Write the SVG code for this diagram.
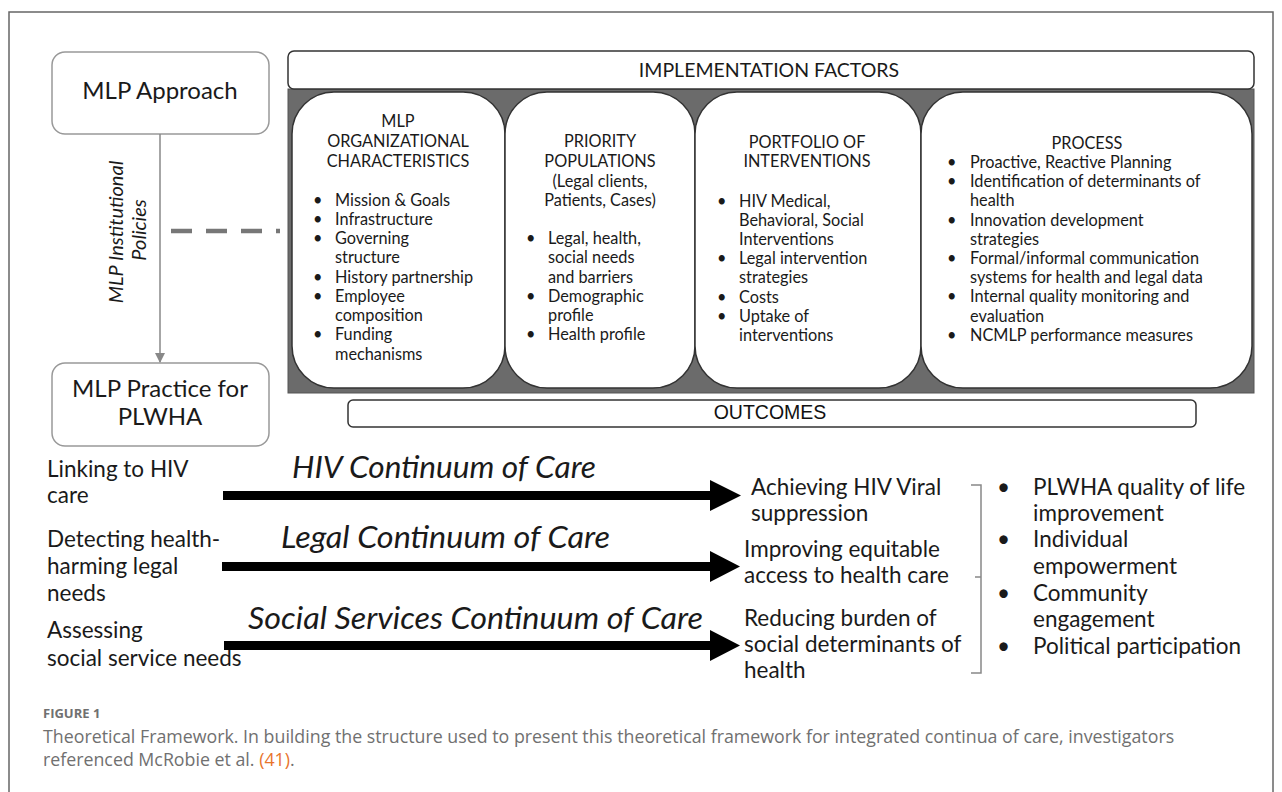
<svg xmlns="http://www.w3.org/2000/svg" width="1282" height="792" viewBox="0 0 1282 792">
<style>
.t{font-family:Lato,"Open Sans","DejaVu Sans",sans-serif;fill:#1a1a1a}
.bx{font-size:16.3px}
.c{text-anchor:middle}
.big{font-size:22.5px}
.it{font-style:italic}
.node{fill:#fff;stroke:#999;stroke-width:1.5}
.col{fill:#fff;stroke:#333;stroke-width:1.5}
.cap{font-family:"Open Sans","Noto Sans",sans-serif;fill:#707070}
</style>
<defs>
<marker id="ah" markerWidth="10" markerHeight="10" refX="9" refY="5" orient="auto" markerUnits="userSpaceOnUse">
<path d="M0,0 L10,5 L0,10 Z" fill="#888"/>
</marker>
</defs>
<rect x="0" y="0" width="1282" height="792" fill="#fff"/>
<rect x="9" y="12" width="1264" height="800" fill="none" stroke="#666" stroke-width="1.5"/>

<g id="mlp-approach">
<rect class="node" x="52" y="52" width="217" height="82" rx="13"/>
<text class="t c" x="160" y="99" font-size="24">MLP Approach</text>
</g>
<g id="mlp-practice">
<rect class="node" x="52" y="363" width="217" height="83" rx="13"/>
<text class="t c" x="160" y="397" font-size="24">MLP Practice for</text>
<text class="t c" x="160" y="425" font-size="24">PLWHA</text>
</g>
<g id="policies-label">
<text class="t c it" font-size="20" transform="translate(123,232) rotate(-90)">MLP Institutional</text>
<text class="t c it" font-size="20" transform="translate(146,230) rotate(-90)">Policies</text>
</g>

<g id="implementation">
<rect x="288" y="89" width="966" height="304" fill="#6b6b6b" stroke="#555" stroke-width="1"/>
<rect x="288" y="51" width="966" height="38" rx="6" fill="#fff" stroke="#333" stroke-width="1.5"/>
<text class="t c" x="769" y="77" font-size="19.5">IMPLEMENTATION FACTORS</text>
</g>

<g id="org-char">
<rect class="col" x="292" y="92" width="213" height="296" rx="42"/>
<text class="t bx c" x="398" y="127">MLP</text>
<text class="t bx c" x="398" y="147">ORGANIZATIONAL</text>
<text class="t bx c" x="398" y="167">CHARACTERISTICS</text>
<g class="t bx">
<text x="313" y="206">•</text><text x="335" y="206">Mission &amp; Goals</text>
<text x="313" y="225">•</text><text x="335" y="225">Infrastructure</text>
<text x="313" y="244">•</text><text x="335" y="244">Governing</text>
<text x="335" y="263">structure</text>
<text x="313" y="283">•</text><text x="335" y="283">History partnership</text>
<text x="313" y="302">•</text><text x="335" y="302">Employee</text>
<text x="335" y="321">composition</text>
<text x="313" y="340">•</text><text x="335" y="340">Funding</text>
<text x="335" y="360">mechanisms</text>
</g>
</g>

<g id="priority">
<rect class="col" x="505" y="92" width="190" height="296" rx="42"/>
<text class="t bx c" x="600" y="147">PRIORITY</text>
<text class="t bx c" x="600" y="167">POPULATIONS</text>
<text class="t bx c" x="600" y="187">(Legal clients,</text>
<text class="t bx c" x="600" y="206">Patients, Cases)</text>
<g class="t bx">
<text x="526" y="244">•</text><text x="548" y="244">Legal, health,</text>
<text x="548" y="263">social needs</text>
<text x="548" y="283">and barriers</text>
<text x="526" y="302">•</text><text x="548" y="302">Demographic</text>
<text x="548" y="321">profile</text>
<text x="526" y="340">•</text><text x="548" y="340">Health profile</text>
</g>
</g>

<g id="portfolio">
<rect class="col" x="695" y="92" width="226" height="296" rx="42"/>
<text class="t bx c" x="807" y="148">PORTFOLIO OF</text>
<text class="t bx c" x="807" y="167">INTERVENTIONS</text>
<g class="t bx">
<text x="717" y="207">•</text><text x="739" y="207">HIV Medical,</text>
<text x="739" y="226">Behavioral, Social</text>
<text x="739" y="245">Interventions</text>
<text x="717" y="264">•</text><text x="739" y="264">Legal intervention</text>
<text x="739" y="283">strategies</text>
<text x="717" y="303">•</text><text x="739" y="303">Costs</text>
<text x="717" y="322">•</text><text x="739" y="322">Uptake of</text>
<text x="739" y="341">interventions</text>
</g>
</g>

<g id="process">
<rect class="col" x="921" y="92" width="331" height="296" rx="42"/>
<text class="t bx c" x="1087" y="149">PROCESS</text>
<g class="t bx">
<text x="947" y="168">•</text><text x="970" y="168">Proactive, Reactive Planning</text>
<text x="947" y="187">•</text><text x="970" y="187">Identification of determinants of</text>
<text x="970" y="206">health</text>
<text x="947" y="226">•</text><text x="970" y="226">Innovation development</text>
<text x="970" y="245">strategies</text>
<text x="947" y="264">•</text><text x="970" y="264">Formal/informal communication</text>
<text x="970" y="283">systems for health and legal data</text>
<text x="947" y="302">•</text><text x="970" y="302">Internal quality monitoring and</text>
<text x="970" y="322">evaluation</text>
<text x="947" y="341">•</text><text x="970" y="341">NCMLP performance measures</text>
</g>
</g>

<g id="outcomes">
<rect x="348" y="400" width="848" height="27" rx="5" fill="#fff" stroke="#333" stroke-width="1.5"/>
<text x="770" y="419" text-anchor="middle" font-family="'Liberation Sans',Arial,sans-serif" font-size="19.5" fill="#111">OUTCOMES</text>
</g>

<g id="inputs" class="t big">
<text x="47" y="477">Linking to HIV</text>
<text x="47" y="503">care</text>
<text x="47" y="547">Detecting health-</text>
<text x="47" y="574">harming legal</text>
<text x="47" y="601">needs</text>
<text x="47" y="638">Assessing</text>
<text x="47" y="666">social service needs</text>
</g>

<g id="continuum-labels" class="t it" font-size="30">
<text x="292" y="478" textLength="304" lengthAdjust="spacingAndGlyphs">HIV Continuum of Care</text>
<text x="281" y="548" textLength="329" lengthAdjust="spacingAndGlyphs">Legal Continuum of Care</text>
<text x="248" y="629" textLength="455" lengthAdjust="spacingAndGlyphs">Social Services Continuum of Care</text>
</g>

<g id="results" class="t big">
<text x="751" y="495">Achieving HIV Viral</text>
<text x="751" y="521">suppression</text>
<text x="744" y="557">Improving equitable</text>
<text x="744" y="583">access to health care</text>
<text x="744" y="626">Reducing burden of</text>
<text x="744" y="652">social determinants of</text>
<text x="744" y="678">health</text>
</g>

<g id="impacts" class="t big">
<text x="997" y="495">•</text><text x="1033" y="495">PLWHA quality of life</text>
<text x="1033" y="521">improvement</text>
<text x="997" y="547">•</text><text x="1033" y="547">Individual</text>
<text x="1033" y="574">empowerment</text>
<text x="997" y="601">•</text><text x="1033" y="601">Community</text>
<text x="1033" y="627">engagement</text>
<text x="997" y="654">•</text><text x="1033" y="654">Political participation</text>
</g>

<g id="connectors">
<line x1="160" y1="134" x2="160" y2="362" stroke="#888" stroke-width="1.5" marker-end="url(#ah)"/>
<line x1="171" y1="231" x2="280" y2="231" stroke="#777" stroke-width="4.5" stroke-dasharray="21,14"/>
<rect x="223" y="491" width="489" height="9" fill="#000"/>
<polygon points="710,480 741,495.5 710,511" fill="#000"/>
<rect x="222" y="562" width="490" height="9" fill="#000"/>
<polygon points="710,551 740,566.5 710,582" fill="#000"/>
<rect x="224" y="641" width="488" height="9" fill="#000"/>
<polygon points="710,630 740,645.5 710,661" fill="#000"/>
<path d="M971,485 L981,485 L981,673 L971,673 M981,577 L975,577" fill="none" stroke="#888" stroke-width="1.5"/>
</g>

<g id="caption">
<text class="cap" x="43" y="718" font-size="13" font-weight="bold">FIGURE 1</text>
<text class="cap" x="43" y="743" font-size="17.8">Theoretical Framework. In building the structure used to present this theoretical framework for integrated continua of care, investigators</text>
<text class="cap" x="43" y="766" font-size="17.8">referenced McRobie et al. <tspan fill="#e8742c">(41)</tspan>.</text>
</g>
</svg>
